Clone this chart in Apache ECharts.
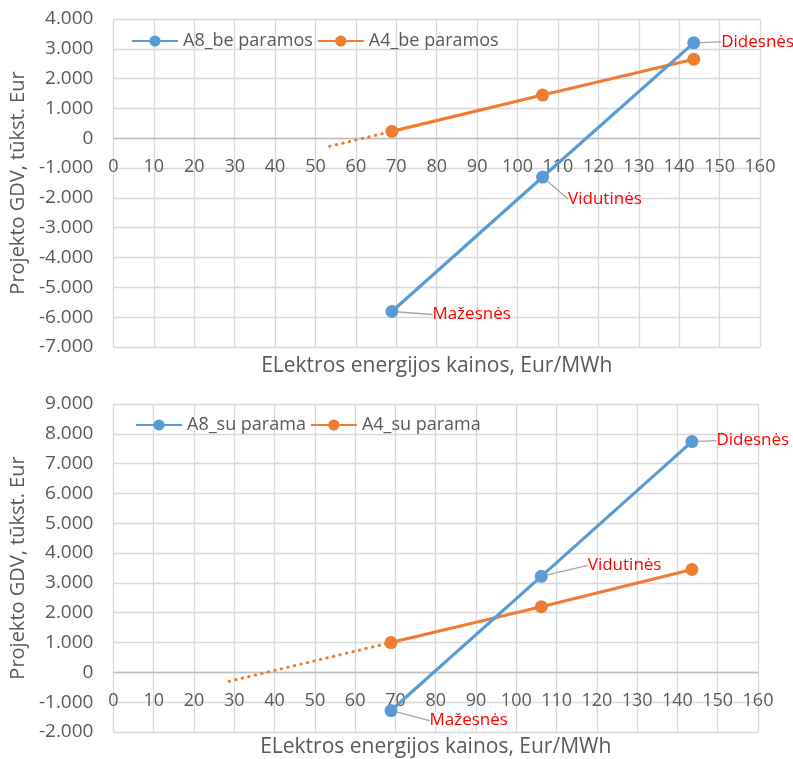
<!DOCTYPE html>
<html>
<head>
<meta charset="utf-8">
<script src="https://cdn.jsdelivr.net/npm/echarts@6/dist/echarts.min.js"></script>
<style>
  html, body { margin: 0; padding: 0; background: #ffffff; }
  #chart { width: 793px; height: 759px; }
</style>
</head>
<body>
<div id="chart"></div>
<script>
// Electricity price scenarios (Eur/MWh) and project NPV (thousand Eur)
const priceLevels = [68.9, 106.2, 143.6];
const scenarioNames = ['Mažesnės', 'Vidutinės', 'Didesnės'];

// Without support
const a8BeParamos = [-5810, -1300, 3200];
const a4BeParamos = [230, 1450, 2650];
const a4BeTrend = [[53.5, -270], [68.9, 230]];

// With support
const a8SuParama = [-1280, 3220, 7740];
const a4SuParama = [1000, 2200, 3450];
const a4SuTrend = [[28.7, -300], [68.9, 1000]];

const seriesNames = [
  ['A8_be paramos', 'A4_be paramos'],
  ['A8_su parama', 'A4_su parama']
];
const yRanges = [[-7000, 4000], [-2000, 9000]];
const xRange = [0, 160];
const xTitle = 'ELektros energijos kainos, Eur/MWh';
const yTitle = 'Projekto GDV, tūkst. Eur';

// label offsets (dx, dy) for the scenario labels in each panel
const labelShift = [
  [[29, 3], [14, 22], [16, -1]],
  [[27, 10], [35, -11], [13, -1]]
];

const BLUE = '#5b9bd5', ORANGE = '#ed7d31', GRID = '#d9d9d9', TXT = '#595959';
const FONT = 'Open Sans';

const toPoints = (ys) => priceLevels.map((x, i) => [x, ys[i]]);
const fmtY = (v) => v === 0 ? '0' : (v / 1000).toFixed(3);

const grids = [
  { left: 112, top: 19, width: 648, height: 328 },
  { left: 110, top: 404, width: 648, height: 328 }
];

const xAxes = [], yAxes = [], series = [], legends = [];
const panels = [
  { a8: a8BeParamos, a4: a4BeParamos, trend: a4BeTrend, legendLeft: 126, legendTop: 27, nameGap: 9 },
  { a8: a8SuParama, a4: a4SuParama, trend: a4SuTrend, legendLeft: 130, legendTop: 411, nameGap: 5 }
];

panels.forEach((p, g) => {
  const [yMin, yMax] = yRanges[g];
  // shift the price axis up so it runs along the zero line
  const zeroOffset = -grids[g].height * (0 - yMin) / (yMax - yMin);
  xAxes.push({
    type: 'value', gridIndex: g, min: xRange[0], max: xRange[1], interval: 10,
    position: 'bottom', offset: zeroOffset,
    axisLine: { onZero: false, lineStyle: { color: '#bfbfbf', width: 1.3 } },
    axisTick: { show: false },
    axisLabel: { color: TXT, fontSize: 18, fontFamily: FONT, margin: 20 },
    splitLine: { show: true, lineStyle: { color: GRID, width: 1.3 } }
  });
  // title axis at the bottom of the plot area
  xAxes.push({
    type: 'value', gridIndex: g, min: xRange[0], max: xRange[1], position: 'bottom',
    axisLine: { show: false, onZero: false }, axisTick: { show: false },
    axisLabel: { show: false }, splitLine: { show: false },
    name: xTitle, nameLocation: 'middle', nameGap: p.nameGap,
    nameTextStyle: { color: TXT, fontSize: 21, fontFamily: FONT }
  });
  yAxes.push({
    type: 'value', gridIndex: g, min: yMin, max: yMax, interval: 1000,
    axisLine: { show: false }, axisTick: { show: false },
    axisLabel: { color: TXT, fontSize: 19, fontFamily: FONT, margin: 20, formatter: fmtY },
    splitLine: { show: true, lineStyle: { color: GRID, width: 1.3 } },
    name: yTitle, nameLocation: 'middle', nameGap: 80,
    nameTextStyle: { color: TXT, fontSize: 20, fontFamily: FONT }
  });

  const shifts = labelShift[g];
  series.push({
    name: seriesNames[g][1], type: 'line', xAxisIndex: g * 2, yAxisIndex: g,
    data: toPoints(p.a4), symbol: 'circle', symbolSize: 13,
    itemStyle: { color: ORANGE }, lineStyle: { color: ORANGE, width: 3.2 }, z: 3
  });
  series.push({
    name: seriesNames[g][1] + ' trend', type: 'line', xAxisIndex: g * 2, yAxisIndex: g,
    data: p.trend, symbol: 'none', silent: true,
    lineStyle: { color: ORANGE, width: 3, type: [0.5, 6.2], cap: 'round' }, z: 2
  });
  series.push({
    name: seriesNames[g][0], type: 'line', xAxisIndex: g * 2, yAxisIndex: g,
    data: toPoints(p.a8), symbol: 'circle', symbolSize: 13,
    itemStyle: { color: BLUE }, lineStyle: { color: BLUE, width: 3.2 }, z: 4,
    label: {
      show: true, position: 'right', distance: 5,
      formatter: (d) => scenarioNames[d.dataIndex],
      color: '#ff0000', fontSize: 17, fontFamily: FONT
    },
    labelLine: { show: true, lineStyle: { color: '#a6a6a6', width: 1.3 } },
    labelLayout: (params) => {
      const s = shifts[params.dataIndex];
      return { dx: s[0], dy: s[1] };
    }
  });

  legends.push({
    data: seriesNames[g], left: p.legendLeft, top: p.legendTop,
    itemWidth: 46, itemHeight: 14, itemGap: 4,
    textStyle: { color: TXT, fontSize: 18, fontFamily: FONT }
  });
});

const chart = echarts.init(document.getElementById('chart'), null, { renderer: 'canvas' });
chart.setOption({
  animation: false,
  backgroundColor: '#ffffff',
  grid: grids,
  xAxis: xAxes,
  yAxis: yAxes,
  legend: legends,
  series: series
});
</script>
</body>
</html>
